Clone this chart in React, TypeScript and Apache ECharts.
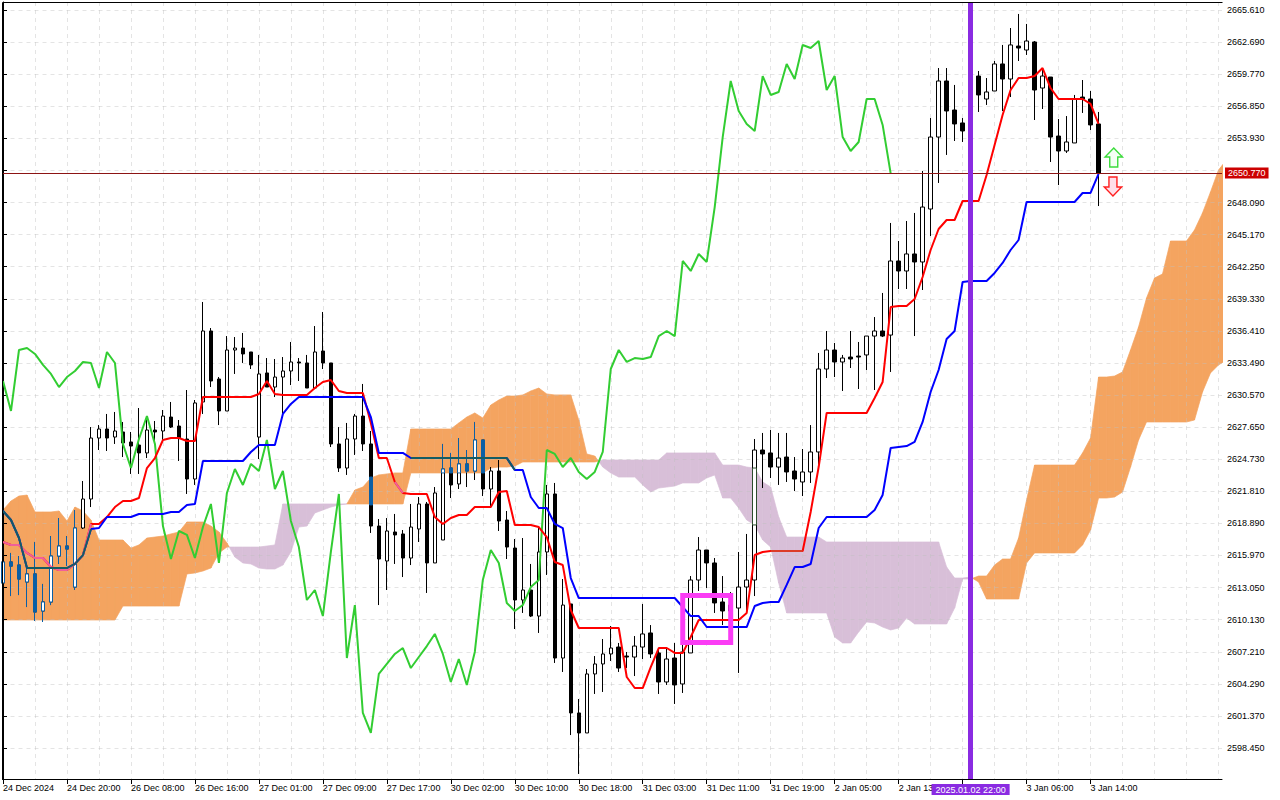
import React, { useEffect, useRef } from "react";
import * as echarts from "echarts";

const opens = [
  2613.47,2615.38,2615.10,2613.56,2614.29,2610.92,2611.74,2615.92,2616.83,2613.10,
  2618.47,2621.11,2626.66,2627.48,2626.75,2627.21,2626.30,2626.02,2625.30,2627.39,
  2627.30,2628.57,2627.75,2626.57,2622.93,2629.94,2636.40,2632.03,2629.12,2634.67,
  2634.85,2634.49,2626.75,2632.58,2631.30,2632.21,2632.76,2633.58,2633.49,2631.21,
  2634.58,2633.49,2626.12,2623.93,2626.57,2628.66,2626.12,2618.65,2615.47,2618.11,
  2617.93,2615.74,2618.38,2620.66,2615.29,2617.38,2623.93,2622.48,2624.30,2623.66,
  2626.48,2622.02,2623.66,2619.20,2616.65,2611.92,2612.83,2610.46,2616.29,2621.57,
  2606.64,2611.56,2601.64,2599.82,2605.19,2606.10,2607.01,2607.64,2606.82,2606.73,
  2607.64,2608.92,2607.10,2604.46,2606.64,2604.28,2607.10,2613.74,2616.47,2615.29,
  2611.74,2610.92,2611.19,2613.10,2613.74,2625.57,2625.30,2624.02,2624.93,2623.66,
  2622.66,2623.57,2625.39,2632.94,2634.67,2633.58,2634.03,2634.12,2634.22,2635.94,
  2636.40,2636.03,2642.77,2641.86,2643.41,2642.68,2647.50,2654.05,2659.15,2656.51,
  2655.33,2654.60,2659.60,2657.51,2658.24,2660.70,2659.33,2662.33,2661.97,2662.70,
  2658.51,2659.51,2654.14,2652.78,2653.51,2657.69,2657.51,2655.24,
];
const closes = [
  2615.38,2615.01,2613.83,2614.29,2610.83,2611.74,2615.92,2616.83,2616.56,2618.47,
  2621.11,2626.66,2627.48,2626.66,2627.30,2626.21,2625.93,2625.30,2627.39,2627.21,
  2628.66,2627.66,2626.66,2622.93,2629.85,2636.40,2631.85,2629.12,2634.67,2634.85,
  2634.31,2633.31,2632.49,2631.30,2632.21,2632.76,2633.58,2633.49,2631.21,2634.49,
  2633.49,2626.12,2623.93,2626.57,2628.66,2626.12,2618.65,2615.65,2618.20,2617.84,
  2615.74,2618.56,2620.66,2615.29,2621.66,2623.84,2622.39,2624.30,2623.66,2626.48,
  2622.02,2623.66,2619.11,2616.74,2611.92,2612.83,2610.46,2616.29,2621.57,2606.64,
  2611.46,2601.64,2599.82,2605.19,2606.10,2607.01,2607.55,2605.73,2606.73,2607.73,
  2608.83,2607.01,2604.46,2606.55,2604.19,2607.19,2613.74,2616.47,2615.29,2611.65,
  2610.92,2611.46,2613.10,2613.74,2625.57,2625.21,2624.02,2624.84,2623.57,2622.93,
  2623.57,2625.39,2632.94,2634.67,2633.58,2633.94,2633.85,2634.03,2635.94,2636.40,
  2635.94,2642.77,2641.86,2643.41,2642.68,2647.68,2654.05,2659.15,2656.42,2655.24,
  2654.60,2659.60,2657.88,2658.15,2660.70,2659.33,2662.43,2662.15,2662.79,2658.33,
  2659.60,2654.05,2652.78,2653.60,2657.51,2657.51,2655.15,2650.77,
];
const lows = [
  2611.46,2612.28,2612.37,2611.28,2610.01,2609.92,2611.46,2615.20,2615.01,2612.83,
  2618.38,2620.38,2625.57,2625.48,2626.12,2624.93,2623.39,2623.39,2624.84,2626.30,
  2626.48,2627.57,2624.57,2621.57,2622.39,2628.85,2631.30,2627.84,2629.12,2632.49,
  2633.49,2632.94,2624.75,2631.30,2630.39,2628.85,2631.48,2631.85,2631.21,2631.12,
  2632.94,2625.84,2623.57,2623.30,2625.12,2625.48,2618.02,2611.46,2612.83,2615.20,
  2614.01,2615.10,2617.20,2612.56,2615.29,2617.38,2621.20,2622.02,2622.20,2622.84,
  2621.38,2620.38,2618.20,2615.65,2609.28,2610.74,2610.37,2608.92,2614.20,2606.19,
  2605.37,2599.63,2596.09,2599.82,2603.37,2603.55,2606.37,2605.37,2605.73,2605.00,
  2606.55,2606.64,2603.37,2604.19,2602.46,2603.46,2607.10,2612.74,2613.01,2610.74,
  2609.64,2610.83,2605.28,2610.65,2612.28,2622.11,2623.02,2622.39,2622.66,2621.84,
  2621.38,2622.57,2624.02,2632.12,2632.21,2630.94,2633.03,2631.12,2632.85,2631.03,
  2635.85,2632.67,2640.22,2640.22,2635.94,2640.13,2645.04,2649.87,2652.42,2653.69,
  2653.60,2651.96,2656.33,2656.97,2658.24,2656.42,2657.69,2660.97,2661.52,2655.60,
  2656.60,2651.78,2649.68,2652.60,2653.51,2656.24,2654.69,2647.77,
];
const highs = [
  2616.65,2616.20,2615.92,2614.92,2617.20,2613.38,2617.74,2619.38,2617.74,2620.11,
  2622.75,2627.66,2627.84,2628.85,2629.03,2628.12,2627.21,2629.39,2628.66,2628.21,
  2629.21,2629.94,2628.30,2631.03,2630.12,2639.04,2636.67,2632.21,2635.94,2635.85,
  2636.22,2634.49,2634.22,2633.94,2633.85,2634.03,2635.40,2633.94,2634.22,2636.85,
  2638.13,2633.49,2627.66,2628.03,2628.85,2631.58,2627.30,2619.29,2619.38,2619.75,
  2618.29,2620.66,2621.29,2620.84,2622.20,2626.12,2625.30,2626.66,2625.57,2628.12,
  2626.48,2624.02,2624.66,2620.02,2617.47,2617.56,2615.20,2618.47,2622.39,2622.57,
  2613.83,2611.56,2602.91,2605.64,2606.82,2608.37,2609.55,2608.01,2607.19,2608.64,
  2611.56,2609.64,2607.55,2607.55,2608.01,2608.28,2614.10,2617.65,2616.47,2615.74,
  2614.10,2612.65,2616.29,2617.93,2626.57,2627.12,2627.39,2627.12,2627.12,2624.93,
  2625.66,2627.84,2634.40,2636.40,2635.31,2634.22,2636.40,2635.40,2635.94,2637.67,
  2639.86,2646.23,2644.59,2646.41,2647.14,2650.96,2655.78,2660.33,2660.33,2658.79,
  2655.78,2660.06,2660.06,2659.42,2660.97,2662.43,2663.97,2665.25,2664.34,2662.79,
  2660.33,2659.51,2655.69,2655.96,2657.88,2659.24,2658.24,2656.33,
];
const tenkan = [
  2617.20,2616.93,2616.93,2616.20,2615.74,2615.74,2614.92,2614.65,2614.65,2615.20,
  2616.01,2618.84,2618.84,2619.47,2620.38,2620.93,2620.93,2621.20,2623.93,2624.84,
  2626.48,2626.66,2626.66,2626.39,2626.39,2630.39,2630.39,2630.39,2630.39,2630.39,
  2630.39,2630.39,2630.67,2631.85,2630.67,2630.58,2630.58,2630.58,2630.58,2631.21,
  2631.76,2631.94,2630.94,2630.76,2630.76,2630.76,2628.03,2624.84,2624.84,2622.66,
  2621.66,2621.57,2621.57,2621.57,2619.47,2618.84,2619.38,2619.66,2619.66,2620.38,
  2620.38,2620.38,2621.75,2621.84,2618.75,2618.75,2618.75,2618.56,2617.65,2615.38,
  2615.10,2611.01,2609.37,2609.37,2609.37,2609.37,2609.37,2609.37,2604.91,2603.91,
  2603.91,2605.82,2607.55,2607.55,2607.10,2607.10,2608.55,2610.10,2610.10,2610.10,
  2610.10,2610.10,2610.10,2610.74,2616.01,2616.29,2616.38,2616.38,2616.38,2616.38,
  2616.38,2619.93,2624.02,2628.94,2628.94,2628.94,2628.94,2628.94,2628.94,2630.30,
  2631.76,2638.58,2638.67,2638.67,2639.31,2641.31,2643.77,2645.68,2646.50,2646.50,
  2648.23,2648.23,2648.23,2650.60,2653.33,2656.06,2658.33,2659.42,2659.42,2659.60,
  2660.33,2658.51,2657.51,2657.51,2657.51,2657.51,2657.06,2655.24,
];
const kijun = [
  2620.02,2619.20,2617.56,2614.83,2614.83,2614.83,2614.83,2614.83,2614.83,2615.20,
  2616.01,2618.38,2618.47,2619.47,2619.47,2619.47,2619.47,2619.75,2619.75,2619.75,
  2619.75,2619.93,2619.93,2620.57,2620.66,2624.57,2624.57,2624.57,2624.57,2624.57,
  2624.57,2625.39,2626.02,2626.02,2626.02,2628.85,2629.76,2630.39,2630.39,2630.39,
  2630.39,2630.39,2630.39,2630.39,2630.39,2630.39,2628.57,2625.30,2625.30,2625.30,
  2625.30,2624.84,2624.84,2624.84,2624.84,2624.84,2624.84,2624.84,2624.84,2624.84,
  2624.84,2624.84,2624.84,2624.84,2623.75,2623.75,2621.29,2620.29,2620.29,2618.84,
  2618.47,2613.92,2612.10,2612.10,2612.10,2612.10,2612.10,2612.10,2612.10,2612.10,
  2612.10,2612.10,2612.10,2612.10,2612.10,2611.28,2610.46,2610.46,2609.46,2609.46,
  2609.46,2609.46,2609.46,2609.46,2611.37,2611.65,2611.74,2611.74,2613.29,2614.92,
  2614.92,2615.20,2618.47,2619.47,2619.47,2619.47,2619.47,2619.47,2619.47,2620.11,
  2621.48,2625.75,2625.84,2625.93,2626.30,2628.12,2630.85,2632.85,2635.67,2636.40,
  2640.86,2640.95,2640.95,2640.95,2641.68,2642.59,2643.77,2644.68,2648.14,2648.14,
  2648.14,2648.14,2648.14,2648.14,2648.14,2648.96,2648.96,2650.69,
];
const chikou = [
  2631.85,2629.12,2634.67,2634.85,
  2634.31,2633.31,2632.49,2631.30,2632.21,2632.76,2633.58,2633.49,2631.21,2634.49,
  2633.49,2626.12,2623.93,2626.57,2628.66,2626.12,2618.65,2615.65,2618.20,2617.84,
  2615.74,2618.56,2620.66,2615.29,2621.66,2623.84,2622.39,2624.30,2623.66,2626.48,
  2622.02,2623.66,2619.11,2616.74,2611.92,2612.83,2610.46,2616.29,2621.57,2606.64,
  2611.46,2601.64,2599.82,2605.19,2606.10,2607.01,2607.55,2605.73,2606.73,2607.73,
  2608.83,2607.01,2604.46,2606.55,2604.19,2607.19,2613.74,2616.47,2615.29,2611.65,
  2610.92,2611.46,2613.10,2613.74,2625.57,2625.21,2624.02,2624.84,2623.57,2622.93,
  2623.57,2625.39,2632.94,2634.67,2633.58,2633.94,2633.85,2634.03,2635.94,2636.40,
  2635.94,2642.77,2641.86,2643.41,2642.68,2647.68,2654.05,2659.15,2656.42,2655.24,
  2654.60,2659.60,2657.88,2658.15,2660.70,2659.33,2662.43,2662.15,2662.79,2658.33,
  2659.60,2654.05,2652.78,2653.60,2657.51,2657.51,2655.15,2650.77,
];
const senkouA = [
  2620.11,2620.93,2621.38,2621.47,2619.93,2619.93,2619.93,2620.02,2619.11,2620.38,
  2620.02,2619.20,2617.38,2617.38,2617.38,2617.38,2616.65,2616.93,2617.56,2617.65,
  2617.74,2617.93,2618.11,2619.02,2619.02,2619.02,2618.65,2618.11,2617.11,2615.83,
  2615.29,2615.20,2614.83,2614.74,2614.74,2615.10,2616.29,2618.56,2618.65,2619.84,
  2620.11,2620.38,2620.57,2620.66,2621.93,2622.20,2623.02,2623.30,2623.39,2623.48,
  2623.48,2627.48,2627.48,2627.48,2627.48,2627.48,2627.48,2628.03,2628.57,2628.94,
  2628.48,2629.66,2630.12,2630.48,2630.48,2630.58,2630.94,2631.21,2630.67,2630.58,
  2630.58,2630.58,2628.30,2625.21,2625.02,2624.02,2623.48,2623.11,2623.11,2623.11,
  2622.39,2621.75,2622.11,2622.20,2622.29,2622.57,2622.57,2622.57,2623.02,2623.30,
  2621.20,2621.20,2620.29,2619.20,2618.75,2617.38,2616.74,2613.47,2610.74,2610.74,
  2610.74,2610.74,2610.74,2610.74,2608.55,2608.01,2608.01,2609.01,2609.92,2609.83,
  2609.46,2609.19,2609.37,2610.28,2609.74,2609.74,2609.74,2609.74,2609.74,2611.19,
  2613.83,2613.83,2614.10,2614.10,2615.10,2615.65,2615.65,2617.56,2621.02,2624.20,
  2624.20,2624.20,2624.20,2624.20,2624.20,2625.30,2626.66,2632.21,2632.21,2632.30,
  2632.67,2634.67,2636.76,2639.40,2641.22,2641.59,2644.59,2644.59,2644.59,2645.59,
  2647.14,2649.05,2651.05,2651.96,
];
const senkouB = [
  2610.10,2610.10,2610.10,2610.10,2610.10,2610.10,2610.10,2610.10,2610.10,2610.10,
  2610.10,2610.10,2610.10,2610.10,2610.10,2611.37,2611.37,2611.37,2611.37,2611.37,
  2611.37,2611.37,2611.37,2614.29,2614.38,2614.56,2614.83,2616.20,2616.74,2616.74,
  2616.74,2616.74,2616.74,2616.83,2616.93,2620.66,2620.66,2620.66,2620.66,2620.66,
  2620.66,2620.66,2620.66,2620.66,2620.66,2620.66,2620.66,2620.66,2620.66,2620.66,
  2620.66,2623.48,2623.48,2623.48,2623.48,2623.48,2623.48,2623.48,2623.48,2623.48,
  2623.48,2623.93,2624.02,2624.02,2624.11,2624.48,2624.48,2624.48,2624.48,2624.48,
  2624.48,2624.48,2624.48,2624.48,2624.48,2624.66,2624.66,2624.66,2624.66,2624.66,
  2624.66,2624.66,2624.66,2625.30,2625.30,2625.30,2625.30,2625.30,2625.30,2625.30,
  2624.20,2624.20,2624.20,2624.02,2623.93,2622.66,2622.20,2619.47,2617.65,2617.65,
  2617.65,2617.65,2617.65,2617.20,2617.20,2617.20,2617.20,2617.20,2617.20,2617.20,
  2617.20,2617.20,2617.20,2617.20,2617.20,2617.20,2617.20,2617.20,2614.92,2613.92,
  2613.92,2614.01,2613.56,2612.01,2612.01,2612.01,2612.01,2612.01,2615.29,2616.20,
  2616.20,2616.20,2616.20,2616.20,2616.20,2616.93,2618.29,2621.20,2621.20,2621.29,
  2621.75,2624.02,2626.48,2628.12,2628.12,2628.12,2628.12,2628.12,2628.12,2628.30,
  2630.85,2632.58,2633.31,2633.76,
];

// Parts of candles that overlap the cloud: [bar, open, close, low, high]
const blueParts = [
  [46, 2623.11, 2620.57, 2620.57, 2623.11],
  [55, 2623.48, 2623.84, 2623.48, 2626.12],
  [56, 2623.93, 2623.48, 2623.48, 2625.30],
  [57, 2623.48, 2624.30, 2623.48, 2626.66],
  [58, 2624.30, 2623.66, 2623.48, 2625.57],
  [59, 2623.66, 2626.48, 2623.48, 2628.12],
  [60, 2626.48, 2623.48, 2623.48, 2626.48],
];
const greenParts = [[94, 2618.75, 2623.93, 2618.75, 2623.93]];

const priceTicks = [
  2665.61,2662.69,2659.77,2656.85,2653.93,2651.01,2648.09,2645.17,2642.25,2639.33,2636.41,2633.49,
  2630.57,2627.65,2624.73,2621.81,2618.89,2615.97,2613.05,2610.13,2607.21,2604.29,2601.37,2598.45,
];
const hiddenPriceTick = 2651.01; // covered by the last-price tag
const timeLabels = [
  "24 Dec 2024","24 Dec 20:00","26 Dec 08:00","26 Dec 16:00","27 Dec 01:00","27 Dec 09:00",
  "27 Dec 17:00","30 Dec 02:00","30 Dec 10:00","30 Dec 18:00","31 Dec 03:00","31 Dec 11:00",
  "31 Dec 19:00","2 Jan 05:00","2 Jan 13","","3 Jan 06:00","3 Jan 14:00",
];
const timeTicks = timeLabels.map((_, k) => k * 8);
const gridBars = Array.from({ length: 39 }, (_, k) => k * 4);

const lastPrice = 2650.77;
const markedBar = 121;
const markedTime = "2025.01.02 22:00";
const frameBox = [[85, 2612.33, 91, 2608.05]];
const upArrow = [[138.9, 2653.05]];
const downArrow = [[138.8, 2648.68]];

const FONT = "Liberation Sans";
const ORANGE = "#F4A460";
const LILAC = "#D8BFD8";

function lineOf(values: number[], from: number, to: number, color: string, z: number) {
  const data: number[][] = [];
  for (let i = from; i <= to && i < values.length; i++) data.push([i, values[i]]);
  return {
    type: "line", data, symbol: "none", z, clip: true, silent: true,
    lineStyle: { color, width: 2 }, xAxisIndex: 0, yAxisIndex: 0,
  };
}

function cloudItem(params: any, api: any) {
  const x0 = api.value(0), a0 = api.value(1), b0 = api.value(2);
  const x1 = api.value(3), a1 = api.value(4), b1 = api.value(5);
  const d0 = a0 - b0, d1 = a1 - b1;
  const poly = (pts: number[][], up: boolean) => ({
    type: "polygon",
    shape: { points: pts.map((p) => api.coord(p)) },
    style: { fill: up ? ORANGE : LILAC, stroke: up ? ORANGE : LILAC, lineWidth: 0.7 },
  });
  const children: any[] = [];
  if (d0 * d1 < 0) {
    const t = d0 / (d0 - d1);
    const xc = x0 + (x1 - x0) * t;
    const yc = a0 + (a1 - a0) * t;
    children.push(poly([[x0, a0], [xc, yc], [x0, b0]], d0 > 0));
    children.push(poly([[xc, yc], [x1, a1], [x1, b1]], d1 > 0));
  } else {
    children.push(poly([[x0, a0], [x1, a1], [x1, b1], [x0, b0]], d0 + d1 > 0));
  }
  return { type: "group", children };
}

function frameItem(params: any, api: any) {
  const p0 = api.coord([api.value(0), api.value(1)]);
  const p1 = api.coord([api.value(2), api.value(3)]);
  return {
    type: "rect",
    shape: { x: p0[0], y: p0[1], width: p1[0] - p0[0], height: p1[1] - p0[1] },
    style: { fill: "none", stroke: "#fb3cf5", lineWidth: 5 },
  };
}

function arrowItem(dir: number, stroke: string, fill: string) {
  return (params: any, api: any) => {
    const c = api.coord([api.value(0), api.value(1)]);
    const shape = [[0, 0], [8.7, 9], [4, 9], [4, 19], [-4, 19], [-4, 9], [-8.7, 9]];
    return {
      type: "polygon",
      shape: { points: shape.map(([dx, dy]) => [c[0] + dx, c[1] + dir * dy]) },
      style: { fill, stroke, lineWidth: 1.4 },
    };
  };
}

function candleOption() {
  const candles = opens.map((o, i) => [i, o, closes[i], lows[i], highs[i]]);
  const blueWhole = candles.slice(0, 10);
  const candleBase = { type: "candlestick", barWidth: 4, encode: { x: 0, y: [1, 2, 3, 4] }, silent: true };
  const cloudData = senkouA.slice(0, -1).map((a, i) => [i, a, senkouB[i], i + 1, senkouA[i + 1], senkouB[i + 1]]);
  const xBase = { type: "value", min: -0.0625, max: 152.4375, position: "bottom" };

  return {
    animation: false,
    backgroundColor: "#ffffff",
    textStyle: { fontFamily: FONT },
    grid: { left: 2, top: 2, width: 1220, height: 777, show: false },
    graphic: [
      { type: "line", silent: true, z: 30, shape: { x1: 2.5, y1: 2.5, x2: 1222.5, y2: 2.5 }, style: { stroke: "#000", lineWidth: 1 } },
      { type: "line", silent: true, z: 30, shape: { x1: 2.5, y1: 2.5, x2: 2.5, y2: 779.5 }, style: { stroke: "#000", lineWidth: 1 } },
    ],
    xAxis: [
      {
        ...xBase,
        z: 2,
        axisLine: { show: true, onZero: false, lineStyle: { color: "#000", width: 1 } },
        axisTick: { show: true, length: 5, customValues: timeTicks, lineStyle: { color: "#000" } },
        splitLine: { show: false },
        axisLabel: {
          show: true, customValues: timeTicks, margin: 4, align: "left", color: "#000", fontSize: 9, fontFamily: FONT,
          formatter: (v: number) => timeLabels[Math.round(v / 8)] ?? "",
        },
      },
      {
        ...xBase,
        z: 2,
        axisLine: { show: false },
        axisTick: { show: false, customValues: gridBars },
        axisLabel: { show: false },
        splitLine: { show: true, lineStyle: { color: "rgba(190,190,190,0.42)", type: [4, 4], width: 1 } },
      },
    ],
    yAxis: {
      type: "value", position: "right", min: 2595.631, max: 2666.338, z: 2,
      axisLine: { show: true, lineStyle: { color: "#000", width: 1 } },
      axisTick: { show: true, length: 4, customValues: priceTicks, lineStyle: { color: "#000" } },
      splitLine: { show: true, lineStyle: { color: "rgba(190,190,190,0.42)", type: [4, 4], width: 1 } },
      axisLabel: {
        show: true, customValues: priceTicks.filter((p) => p !== hiddenPriceTick), margin: 5, color: "#000", fontSize: 9, fontFamily: FONT,
        formatter: (v: number) => v.toFixed(3),
      },
    },
    series: [
      { type: "custom", name: "Cloud", z: 1, clip: true, silent: true, renderItem: cloudItem, data: cloudData, encode: { x: [0, 3], y: [1, 2, 4, 5] } },
      {
        ...candleBase, name: "Price", z: 3, data: candles,
        itemStyle: { color: "#fff", color0: "#000", borderColor: "#000", borderColor0: "#000", borderWidth: 1 },
      },
      {
        ...candleBase, name: "In cloud", z: 4, data: [...blueWhole, ...blueParts],
        itemStyle: { color: "#fff", color0: "#0b5fa5", borderColor: "#0b5fa5", borderColor0: "#0b5fa5", borderWidth: 1 },
      },
      {
        ...candleBase, name: "In lilac", z: 4, data: greenParts,
        itemStyle: { color: "#fff", color0: "#2e4d2e", borderColor: "#2e4d2e", borderColor0: "#2e4d2e", borderWidth: 1 },
      },
      lineOf(chikou, 0, chikou.length - 1, "#32CD32", 5),
      {
        ...lineOf(tenkan, 0, tenkan.length - 1, "#ff0000", 6),
        markLine: {
          silent: true, symbol: "none", z: 20, animation: false,
          data: [
            {
              yAxis: lastPrice,
              lineStyle: { color: "#8c1414", width: 1, type: "solid" },
              label: {
                show: true, position: "end", distance: 3, formatter: lastPrice.toFixed(3), color: "#fff",
                backgroundColor: "#cc0000", padding: [1, 3], fontSize: 9, fontFamily: FONT,
              },
            },
            {
              xAxis: markedBar,
              lineStyle: { color: "#8a2be2", width: 5, type: "solid" },
              label: {
                show: true, position: "start", distance: 5, formatter: markedTime, color: "#fff",
                backgroundColor: "#8a2be2", padding: [1, 4], fontSize: 9, fontFamily: FONT,
              },
            },
          ],
        },
      },
      lineOf(kijun, 0, kijun.length - 1, "#0000ff", 6),
      lineOf(tenkan, 0, 11, "#f0609a", 7),
      lineOf(tenkan, 49, 50, "#f0609a", 7),
      lineOf(tenkan, 96, 100, "#dc3c28", 7),
      lineOf(kijun, 0, 11, "#145c64", 8),
      lineOf(kijun, 51, 64, "#145c64", 8),
      { type: "custom", name: "Frame", z: 9, silent: true, renderItem: frameItem, data: frameBox, encode: { x: [0, 2], y: [1, 3] } },
      { type: "custom", name: "Up", z: 9, silent: true, renderItem: arrowItem(1, "#3bdc3b", "#f4fff4"), data: upArrow, encode: { x: 0, y: 1 } },
      { type: "custom", name: "Down", z: 9, silent: true, renderItem: arrowItem(-1, "#ff2020", "#ffe0ea"), data: downArrow, encode: { x: 0, y: 1 } },
    ],
  };
}

export default function App() {
  const ref = useRef<HTMLDivElement>(null);
  useEffect(() => {
    const chart = echarts.init(ref.current!, undefined, { renderer: "svg", width: 1280, height: 800 });
    chart.setOption(candleOption() as any);
    return () => chart.dispose();
  }, []);
  return <div ref={ref} style={{ position: "fixed", left: 0, top: 0, width: 1280, height: 800, background: "#fff" }} />;
}
